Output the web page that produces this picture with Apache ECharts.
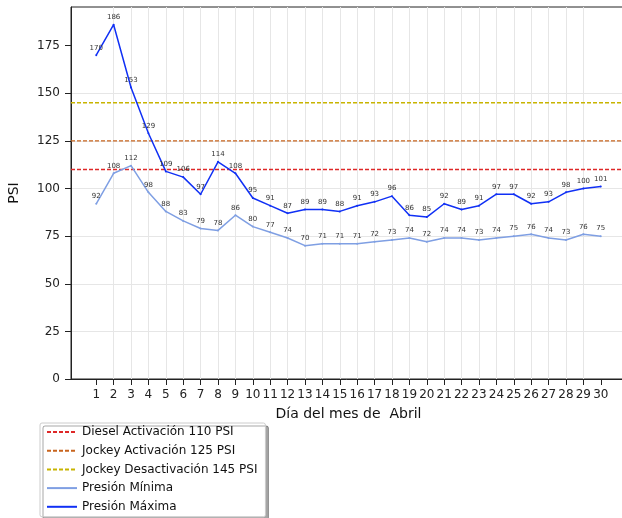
<!DOCTYPE html>
<html><head><meta charset="utf-8">
<script src="https://cdn.jsdelivr.net/npm/echarts@6/dist/echarts.min.js"></script>
<style>html,body{margin:0;padding:0;background:#fff}#c{width:622px;height:518px}</style>
</head><body><div id="c"></div>
<script>
const days = [1,2,3,4,5,6,7,8,9,10,11,12,13,14,15,16,17,18,19,20,21,22,23,24,25,26,27,28,29,30];
const presionMaxima = [170,186,153,129,109,106,97,114,108,95,91,87,89,89,88,91,93,96,86,85,92,89,91,97,97,92,93,98,100,101];
const presionMinima = [92,108,112,98,88,83,79,78,86,80,77,74,70,71,71,71,72,73,74,72,74,74,73,74,75,76,74,73,76,75];
const thresholdNames = ['Diesel Activación 110 PSI','Jockey Activación 125 PSI','Jockey Desactivación 145 PSI'];
const thresholdValues = [110,125,145];
const thresholdColors = ['rgb(222,40,40)','#c8641e','#c8b400'];
const yTicks = [0,25,50,75,100,125,150,175];

const X_MIN = -0.45, X_MAX = 31.45;
const font = 'DejaVu Sans';
const chart = echarts.init(document.getElementById('c'), null, {renderer:'canvas'});

const thresholdSeries = thresholdNames.map((n,i)=>({
  name: n, type:'line', symbol:'none', color: thresholdColors[i],
  data: [[X_MIN, thresholdValues[i]], [X_MAX, thresholdValues[i]]],
  lineStyle:{color:thresholdColors[i], type:[4,2], width:1.4},
  itemStyle:{color:thresholdColors[i]}, z:2
}));

const lbl = {show:true, position:'top', distance:3, fontSize:7, color:'#333', fontFamily:font};

chart.setOption({
  animation:false,
  grid:{left:71, top:7, width:555, bottom:139, outerBoundsMode:'none', containLabel:false,
    show:true, borderColor:'#222', borderWidth:1, backgroundColor:'transparent'},
  xAxis:{type:'value', min:X_MIN, max:X_MAX, interval:1,
    name:'Día del mes de  Abril', nameLocation:'middle', nameGap:28,
    nameTextStyle:{fontSize:14, color:'#111', fontFamily:font},
    axisLine:{onZero:false, lineStyle:{color:'#222', width:1}},
    axisTick:{show:true, length:6, lineStyle:{color:'#222'}, customValues: days},
    axisLabel:{fontSize:12, color:'#222', fontFamily:font, margin:10, customValues: days},
    splitLine:{show:true, lineStyle:{color:'#e6e6e6', width:1}, showMinLine:false, showMaxLine:false},
  },
  yAxis:{type:'value', min:0, max:195.3,
    name:'PSI', nameLocation:'middle', nameGap:50, nameRotate:90,
    nameTextStyle:{fontSize:14, color:'#111', fontFamily:font},
    axisLine:{show:true, onZero:false, lineStyle:{color:'#222', width:1}},
    axisTick:{show:true, length:6, lineStyle:{color:'#222'}, customValues: yTicks},
    axisLabel:{fontSize:12, color:'#222', fontFamily:font, margin:11, customValues: yTicks},
    splitLine:{show:true, lineStyle:{color:'#e6e6e6', width:1}, showMaxLine:false},
  },
  legend:{orient:'vertical', left:40, top:423, itemGap:6.7, itemWidth:30, itemHeight:12,
    padding:[3,8,4,6],
    backgroundColor:'#fff', borderColor:'#ccc', borderWidth:1, borderRadius:2,
    shadowColor:'rgba(0,0,0,0.35)', shadowBlur:0, shadowOffsetX:3, shadowOffsetY:3,
    itemStyle:{opacity:0},
    textStyle:{fontSize:12, color:'#111', fontFamily:font},
    data: thresholdNames.concat(['Presión Mínima','Presión Máxima'])
  },
  series: thresholdSeries.concat([
    {name:'Presión Mínima', type:'line', data: days.map((d,i)=>[d,presionMinima[i]]),
      symbol:'circle', symbolSize:2, showSymbol:true,
      lineStyle:{color:'#7f9fe3', width:1.5}, itemStyle:{color:'#7f9fe3'}, label:lbl, z:3},
    {name:'Presión Máxima', type:'line', data: days.map((d,i)=>[d,presionMaxima[i]]),
      symbol:'circle', symbolSize:2, showSymbol:true,
      lineStyle:{color:'#1030f5', width:1.5}, itemStyle:{color:'#1030f5'}, label:lbl, z:4}
  ])
});
</script></body></html>
